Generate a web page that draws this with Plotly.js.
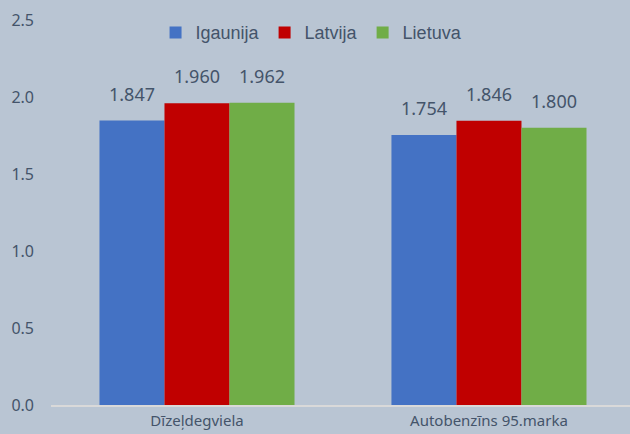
<!DOCTYPE html>
<html><head><meta charset="utf-8">
<script src="https://cdn.plot.ly/plotly-3.0.1.min.js"></script>
<style>html,body{margin:0;padding:0;background:#b9c5d3;}</style>
</head><body>
<div id="chart" style="width:630px;height:434px;"></div>
<script>
const categories = ["Dīzeļdegviela", "Autobenzīns 95.marka"];
const seriesNames = ["Igaunija", "Latvija", "Lietuva"];
const seriesColors = ["#4472c4", "#c00000", "#70ad47"];
const igaunija = [1.847, 1.754];
const latvija = [1.960, 1.846];
const lietuva = [1.962, 1.800];
const allSeries = [igaunija, latvija, lietuva];
const yTicks = [0, 0.5, 1.0, 1.5, 2.0, 2.5];

const traces = allSeries.map((vals, i) => ({
  type: "bar",
  name: seriesNames[i],
  x: categories,
  y: vals,
  marker: {color: seriesColors[i]},
  hoverinfo: "none"
}));

const offsets = [-1/3, 0, 1/3].map(v => v * 0.668);
const annotations = [];
allSeries.forEach((vals, i) => {
  vals.forEach((v, j) => {
    annotations.push({
      x: j + offsets[i], y: v, xref: "x", yref: "y",
      text: v.toFixed(3), showarrow: false,
      yanchor: "bottom", yshift: 13,
      font: {family: "Noto Sans, sans-serif", size: 18, color: "#44546a"}
    });
  });
});

const layout = {
  width: 630, height: 434,
  paper_bgcolor: "#b9c5d3", plot_bgcolor: "#b9c5d3",
  margin: {l: 51, r: 0, t: 20, b: 29},
  barmode: "group", bargap: 0.332, bargroupgap: 0,
  showlegend: true,
  legend: {orientation: "h", x: 0.45, xanchor: "center", y: 1.015, yanchor: "top",
    font: {family: "Liberation Sans Narrow, Liberation Sans, sans-serif", size: 18, color: "#44546a"},
    itemwidth: 30, traceorder: "normal", bgcolor: "rgba(0,0,0,0)"},
  xaxis: {type: "category", range: [-0.5, 1.483], showgrid: false, zeroline: false,
    showline: true, linecolor: "#d9d9d9", linewidth: 2, ticks: "",
    tickfont: {family: "Noto Sans, sans-serif", size: 15, color: "#44546a"},
    ticklabelstandoff: 1},
  yaxis: {range: [0, 2.5], tickvals: yTicks, ticktext: yTicks.map(v => v.toFixed(1)),
    showgrid: false, zeroline: false, showline: false, ticks: "",
    tickfont: {family: "Noto Sans, sans-serif", size: 16, color: "#44546a"},
    ticklabelstandoff: 16},
  annotations: annotations
};

Plotly.newPlot("chart", traces, layout, {displayModeBar: false, staticPlot: true});
</script>
</body></html>
